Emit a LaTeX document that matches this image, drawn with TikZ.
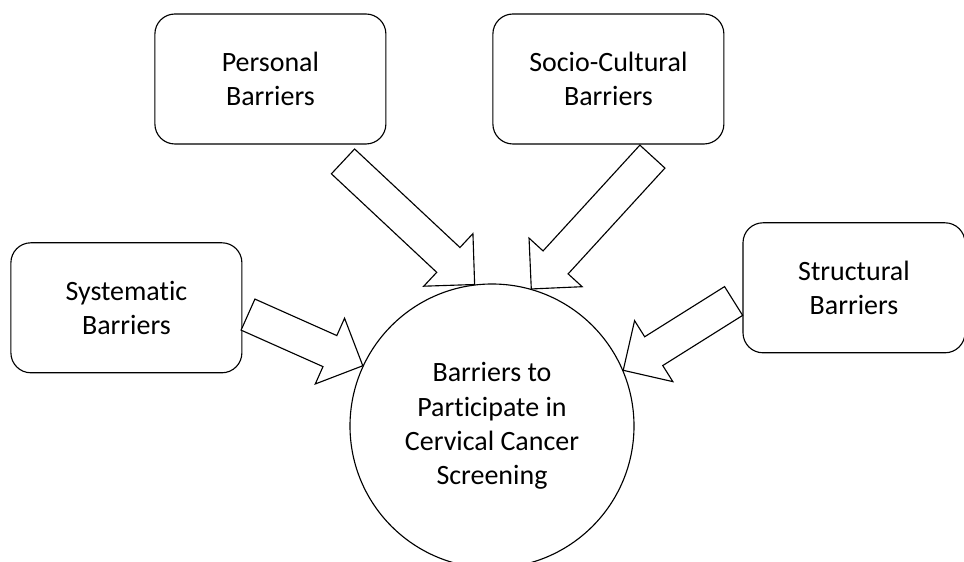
\documentclass[tikz,border=0pt]{standalone}
\usepackage{fontspec}
\setmainfont{Carlito}[Ligatures=NoCommon]
\usetikzlibrary{calc}

% hollow block arrow from #1 (tail) to #2 (tip)
\newcommand{\blockarrow}[2]{%
  \coordinate (hb) at ($(#2)!0.9cm!(#1)$);
  \draw[blockarr] ($(#1)!0.425cm!90:(#2)$) -- ($(hb)!0.425cm!90:(#2)$) -- ($(hb)!0.9cm!90:(#2)$) -- (#2)
    -- ($(hb)!0.9cm!-90:(#2)$) -- ($(hb)!0.425cm!-90:(#2)$) -- ($(#1)!0.425cm!-90:(#2)$) -- cycle;}

\begin{document}
\begin{tikzpicture}[line width=0.8pt,
		every node/.style={font=\fontsize{19.9}{24.3}\selectfont, align=center},
		box/.style={draw, rounded corners=0.5cm, minimum width=5.775cm, minimum height=3.25cm},
		bigcircle/.style={draw, circle, minimum size=7.1cm, inner sep=0pt},
		blockarr/.style={draw, fill=white, line join=miter}]
	\useasboundingbox (0,0) rectangle (24.1,14.025);
	\node[box] (personal) at (6.76,12.05) {Personal\\Barriers};
	\node[box] (socio) at (15.21,12.05) {Socio-Cultural\\Barriers};
	\node[box] (systematic) at (3.16,6.33) {Systematic\\Barriers};
	\node[box, minimum width=5.55cm] (structural) at (21.35,6.83) {Structural\\Barriers};
	\node[bigcircle] (screen) at (12.3,3.375) {Barriers to\\Participate in\\Cervical Cancer\\Screening};
	\coordinate (personalT) at (8.575,9.99);
	\coordinate (socioT) at (16.31,10.11);
	\coordinate (systematicT) at (6.2,6.16);
	\coordinate (structuralT) at (18.34,6.5);
	\blockarrow{personalT}{screen.97}
	\blockarrow{socioT}{screen.74}
	\blockarrow{systematicT}{screen.155}
	\blockarrow{structuralT}{screen.23}
\end{tikzpicture}
\end{document}
